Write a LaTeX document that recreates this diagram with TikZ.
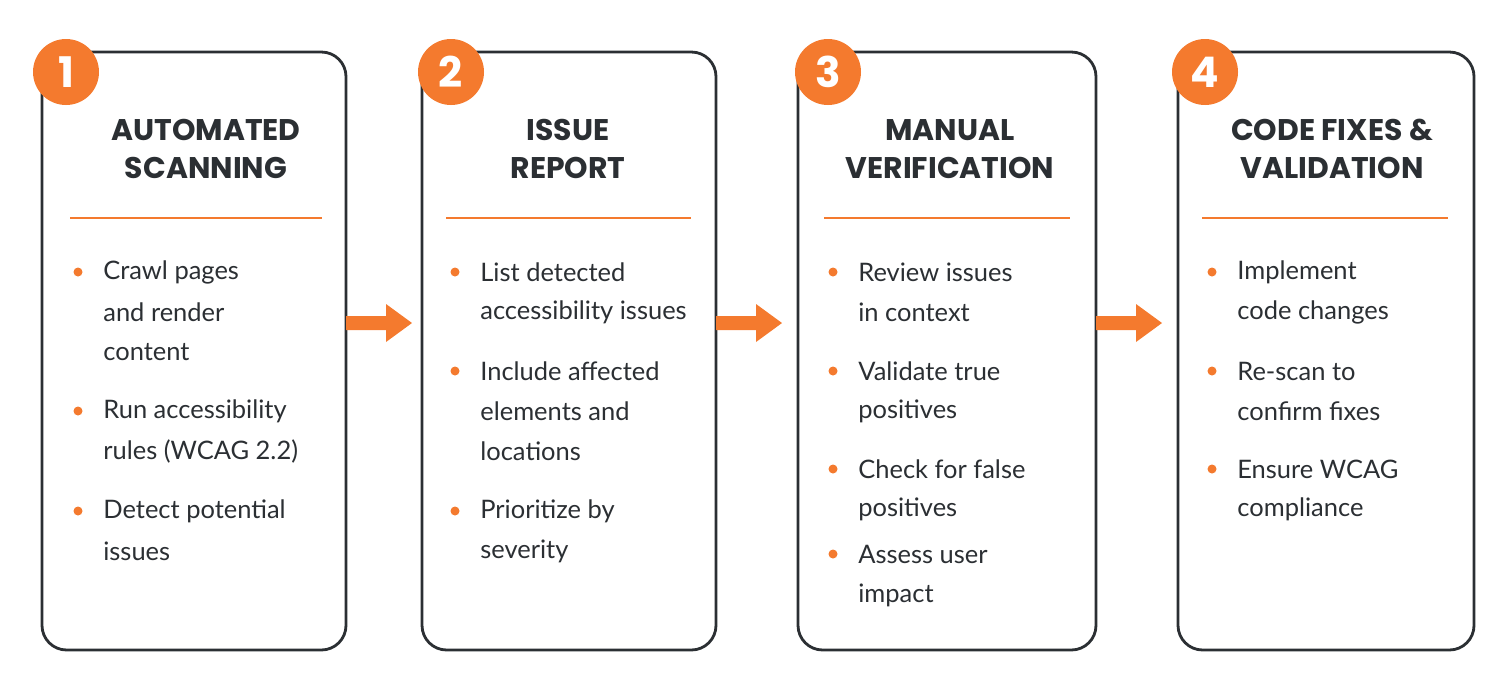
\documentclass[tikz,border=0pt]{standalone}
\usepackage{fontspec}
\setmainfont{Lato}
\newfontfamily\titlefont{Poppins}
\usetikzlibrary{arrows.meta}
\definecolor{org}{HTML}{F47A2E}
\definecolor{dk}{HTML}{2B2F33}
\begin{document}
\begin{tikzpicture}[x=0.02cm,y=-0.02cm,
 card/.style={draw=dk,line width=1.6pt,rounded corners=14pt,fill=white},
 num/.style={circle,fill=org,minimum size=1.32cm,inner sep=0pt,text=white,font=\titlefont\bfseries\fontsize{24}{24}\selectfont},
 ttl/.style={font=\titlefont\bfseries\fontsize{17}{21.5}\selectfont,text=dk,align=center,anchor=center},
 sep/.style={draw=org,line width=1.2pt},
 dot/.style={circle,fill=org,minimum size=0.18cm,inner sep=0pt},
 txt/.style={anchor=west,font=\fontsize{14.5}{22.7}\selectfont,text=dk,inner sep=0pt},
 arr/.style={draw=none,fill=org}]
\useasboundingbox (0,0) rectangle (1506,684);
% cards
\foreach \n/\a/\b in {1/42/346,2/422/716,3/798/1096,4/1178/1474}{
  \draw[card] (\a,52) rectangle (\b,650);
}
\node[num] (n1) at (66,72) {1};
\node[num] (n2) at (451,72) {2};
\node[num] (n3) at (828,72) {3};
\node[num] (n4) at (1205,72) {4};
\node[ttl] (t1) at (206,149) {AUTOMATED\\SCANNING};
\node[ttl] (t2) at (568,149) {ISSUE\\REPORT};
\node[ttl] (t3) at (950,149) {MANUAL\\VERIFICATION};
\node[ttl] (t4) at (1332,149) {CODE FIXES \&\\VALIDATION};
\draw[sep] (70,218) -- (322,218);
\draw[sep] (446,218) -- (691,218);
\draw[sep] (824,218) -- (1070,218);
\draw[sep] (1202,218) -- (1448,218);
% bullets
\newcommand{\mybul}[4]{\node[dot] (d#1) at (#2,#3) {}; \node[txt] (b#1) at (#2+25,#3) {#4};}
\newcommand{\myln}[3]{\node[txt] at (#1+25,#2) {#3};}
% card 1
\mybul{11}{78}{272}{Crawl pages}\myln{78}{312}{and render}\myln{78}{352}{content}
\mybul{12}{78}{411}{Run accessibility}\myln{78}{451}{rules (WCAG 2.2)}
\mybul{13}{78}{511}{Detect potential}\myln{78}{551}{issues}
% card 2
\mybul{21}{455}{272}{List detected}\myln{455}{312}{accessibility issues}
\mybul{22}{455}{371}{Include affected}\myln{455}{411}{elements and}\myln{455}{451}{locations}
\mybul{23}{455}{511}{Prioritize by}\myln{455}{551}{severity}
% card 3
\mybul{31}{833}{272}{Review issues}\myln{833}{312}{in context}
\mybul{32}{833}{371}{Validate true}\myln{833}{411}{positives}
\mybul{33}{833}{469}{Check for false}\myln{833}{509}{positives}
\mybul{34}{833}{554}{Assess user}\myln{833}{595}{impact}
% card 4
\mybul{41}{1212}{272}{Implement}\myln{1212}{312}{code changes}
\mybul{42}{1212}{371}{Re-scan to}\myln{1212}{411}{confirm fixes}
\mybul{43}{1212}{469}{Ensure WCAG}\myln{1212}{509}{compliance}
% arrows
\foreach \x in {346,716,1096}{
 \fill[arr] (\x,316) -- (\x+40,316) -- (\x+40,304) -- (\x+66,323) -- (\x+40,342) -- (\x+40,330) -- (\x,330) -- cycle;
}
\end{tikzpicture}
\end{document}
